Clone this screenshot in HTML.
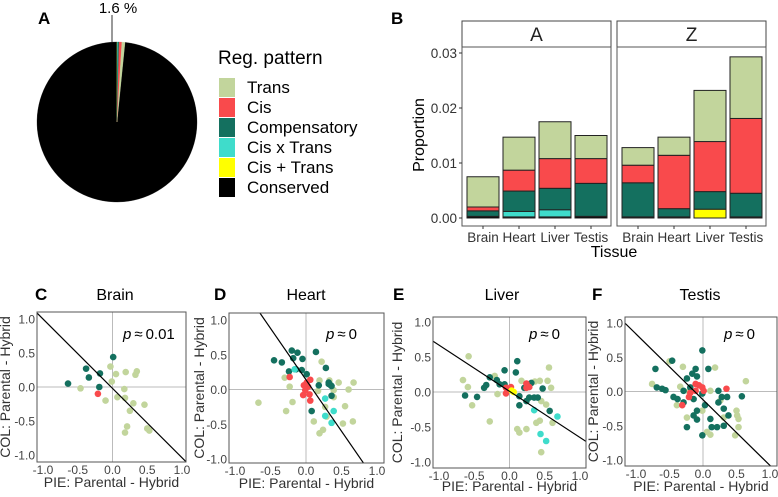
<!DOCTYPE html>
<html><head><meta charset="utf-8"><style>
html,body{margin:0;background:#fff;overflow:hidden;width:778px;height:497px;}
svg{display:block;font-family:"Liberation Sans",Arial,sans-serif;}
</style></head><body>
<svg id="fig" width="778" height="497" viewBox="0 0 778 497" xmlns="http://www.w3.org/2000/svg">
<g id="pieG"></g>
<g id="legG"></g>
<g id="barG"></g>
<g id="scG"></g>
</svg>
<script>
const NS="http://www.w3.org/2000/svg";
function mk(p,t,a,txt){const e=document.createElementNS(NS,t);for(const k in a)e.setAttribute(k,a[k]);if(txt!==undefined)e.textContent=txt;p.appendChild(e);return e;}
const COL={Trans:"#c2d59c",Cis:"#f94a4c",Compensatory:"#14705f",CisxTrans:"#3fdccb",CisPlusTrans:"#ffff00",Conserved:"#000000"};

// ---- Panel A data
const pieCats=["Conserved","CisPlusTrans","CisxTrans","Compensatory","Cis","Trans"];
const pieVals=[98.4,0.02,0.12,0.28,0.55,0.63];
const legendLabels=["Trans","Cis","Compensatory","Cis x Trans","Cis + Trans","Conserved"];
const legendKeys=["Trans","Cis","Compensatory","CisxTrans","CisPlusTrans","Conserved"];

// ---- Panel B data
const tissues=["Brain","Heart","Liver","Testis"];
const facets=["A","Z"];
const stackKeys=["Conserved","CisPlusTrans","CisxTrans","Compensatory","Cis","Trans"];
const valsA_Conserved=[0.0003,0.0002,0.0002,0.0003];
const valsA_CisPlusTrans=[0,0,0,0];
const valsA_CisxTrans=[0,0.0010,0.0013,0];
const valsA_Compensatory=[0.0010,0.0037,0.0039,0.0060];
const valsA_Cis=[0.0007,0.0038,0.0054,0.0045];
const valsA_Trans=[0.0055,0.0060,0.0067,0.0042];
const valsZ_Conserved=[0.0002,0.0002,0,0.0002];
const valsZ_CisPlusTrans=[0,0,0.0016,0];
const valsZ_CisxTrans=[0,0,0,0];
const valsZ_Compensatory=[0.0062,0.0015,0.0032,0.0043];
const valsZ_Cis=[0.0032,0.0097,0.0091,0.0136];
const valsZ_Trans=[0.0032,0.0033,0.0093,0.0112];
const yTicksB=[0,0.01,0.02,0.03];
const yTickLabelsB=["0.00","0.01","0.02","0.03"];

// ---- Scatter data [x,y,category]
const ptsBrain=[[-0.64,0.05,"Compensatory"],[-0.34,0.14,"Compensatory"],[-0.38,0.27,"Compensatory"],[-0.18,0.2,"Compensatory"],[-0.19,0,"Compensatory"],[0.01,0.44,"Compensatory"],[-0.21,-0.1,"Cis"],
[-0.46,-0.02,"Trans"],[-0.03,0.3,"Trans"],[0.05,0.19,"Trans"],[-0.01,0.08,"Trans"],[0.17,-0.03,"Trans"],[0.07,-0.15,"Trans"],[0.18,-0.16,"Trans"],[-0.1,-0.2,"Trans"],[0.19,0.22,"Trans"],[0.35,0.23,"Trans"],[0.33,0.18,"Trans"],[0.3,-0.24,"Trans"],[0.25,-0.35,"Trans"],[0.46,-0.26,"Trans"],[0.21,-0.58,"Trans"],[0.18,-0.67,"Trans"],[0.5,-0.61,"Trans"],[0.53,-0.64,"Trans"]];
const ptsHeart=[[0.22,0.4,"Trans"],[0.19,0.13,"Trans"],[0.17,-0.02,"Trans"],[0.33,0.13,"Trans"],[0.46,0.1,"Trans"],[0.67,0.1,"Trans"],[0.6,0,"Trans"],[0.39,-0.01,"Trans"],[0.55,-0.24,"Trans"],[0.66,-0.46,"Trans"],[0.52,-0.49,"Trans"],[0.24,-0.58,"Trans"],[0.19,-0.63,"Trans"],[0.11,-0.46,"Trans"],[0.29,-0.39,"Trans"],[0.27,-0.25,"Trans"],[-0.23,0.04,"Trans"],[-0.19,-0.18,"Trans"],[-0.28,-0.31,"Trans"],[-0.67,-0.19,"Trans"],[-0.3,0.17,"Trans"],[0.39,-0.11,"Trans"],
[-0.45,0.42,"Compensatory"],[-0.34,0.39,"Compensatory"],[-0.2,0.56,"Compensatory"],[-0.12,0.53,"Compensatory"],[-0.18,0.45,"Compensatory"],[0.14,0.54,"Compensatory"],[-0.05,0.44,"Compensatory"],[-0.24,0.26,"Compensatory"],[-0.14,0.29,"Compensatory"],[-0.06,0.28,"Compensatory"],[0.01,0.22,"Compensatory"],[0.28,0.31,"Compensatory"],[0.18,0.06,"Compensatory"],[0.32,0.1,"Compensatory"],[0.35,0.06,"Compensatory"],[0.36,0.05,"Compensatory"],[0.36,-0.09,"Compensatory"],[0.08,-0.31,"Compensatory"],[0.32,0.08,"Compensatory"],
[-0.16,0.29,"CisxTrans"],[0.27,-0.13,"CisxTrans"],[0.39,-0.31,"CisxTrans"],[0.27,-0.38,"CisxTrans"],[0.36,-0.48,"CisxTrans"],
[-0.23,0.18,"Cis"],[0.06,0.14,"Cis"],[0.01,0.1,"Cis"],[-0.03,0.06,"Cis"],[0.03,0.04,"Cis"],[-0.04,-0.08,"Cis"],[0.05,-0.07,"Cis"],[0.06,-0.16,"Cis"],[-0.01,-0.01,"Cis"]];
const ptsLiver=[[-0.58,0.51,"Trans"],[-0.66,0.17,"Trans"],[-0.59,0.07,"Trans"],[-0.53,-0.19,"Trans"],[-0.28,-0.42,"Trans"],[-0.21,0.23,"Trans"],[-0.17,-0.03,"Trans"],[0.17,0.16,"Trans"],[0.36,0.15,"Trans"],[0.43,0.16,"Trans"],[0.56,0.35,"Trans"],[0.54,0.16,"Trans"],[0.59,0.06,"Trans"],[0.61,-0.44,"Trans"],[0.38,-0.44,"Trans"],[0.24,-0.53,"Trans"],[0.11,-0.53,"Trans"],[0.14,-0.58,"Trans"],[0.45,-0.86,"Trans"],[0.43,-0.41,"Trans"],[0.45,-0.13,"Trans"],[0.52,-0.18,"Trans"],
[-0.63,-0.05,"Compensatory"],[-0.46,-0.07,"Compensatory"],[-0.36,0.06,"Compensatory"],[-0.33,0.1,"Compensatory"],[-0.28,0.21,"Compensatory"],[-0.18,0.17,"Compensatory"],[-0.07,0.31,"Compensatory"],[-0.14,0.11,"Compensatory"],[-0.07,0.11,"Compensatory"],[0.11,0.44,"Compensatory"],[0.09,0.28,"Compensatory"],[0.14,-0.06,"Compensatory"],[0.14,-0.19,"Compensatory"],[0.21,0.06,"Compensatory"],[0.31,0.13,"Compensatory"],[0.28,-0.08,"Compensatory"],[0.35,-0.08,"Compensatory"],[0.4,-0.08,"Compensatory"],[0.47,0.05,"Compensatory"],[0.57,-0.27,"Compensatory"],[0.24,-0.13,"Compensatory"],
[0.35,-0.26,"CisxTrans"],[0.68,-0.35,"CisxTrans"],[0.44,-0.6,"CisxTrans"],[0.52,-0.7,"CisxTrans"],
[-0.05,0.06,"Cis"],[-0.01,0.04,"Cis"],[-0.05,-0.02,"Cis"],[0.02,0.07,"Cis"],[0.24,0.06,"Cis"],[0.28,0.07,"Cis"],[0.24,0.12,"Cis"],
[0.03,0.02,"CisPlusTrans"],[0.06,0,"CisPlusTrans"]];
const ptsTestis=[[-0.5,0.44,"Trans"],[-0.3,0.36,"Trans"],[-0.76,0.11,"Trans"],[-0.39,-0.2,"Trans"],[-0.24,-0.38,"Trans"],[-0.34,0.07,"Trans"],[-0.21,0,"Trans"],[-0.01,-0.28,"Trans"],[0.18,0.35,"Trans"],[0.11,0.01,"Trans"],[0.26,-0.13,"Trans"],[0.31,-0.38,"Trans"],[0.5,-0.28,"Trans"],[0.51,-0.35,"Trans"],[0.53,-0.4,"Trans"],[0.53,-0.52,"Trans"],[0.48,-0.64,"Trans"],[0.11,-0.63,"Trans"],[0.64,0.15,"Trans"],[0.06,-0.59,"Trans"],
[-0.71,0.33,"Compensatory"],[-0.46,0.45,"Compensatory"],[-0.01,0.6,"Compensatory"],[-0.69,0.06,"Compensatory"],[-0.61,0.04,"Compensatory"],[-0.56,0.02,"Compensatory"],[-0.44,-0.08,"Compensatory"],[-0.38,-0.11,"Compensatory"],[-0.29,0.01,"Compensatory"],[-0.24,0.19,"Compensatory"],[-0.16,0.26,"Compensatory"],[-0.11,0.33,"Compensatory"],[-0.09,0.22,"Compensatory"],[0.08,0.33,"Compensatory"],[-0.19,0.06,"Compensatory"],[-0.14,-0.11,"Compensatory"],[-0.01,-0.03,"Compensatory"],[0.03,-0.2,"Compensatory"],[-0.09,-0.28,"Compensatory"],[-0.14,-0.35,"Compensatory"],[-0.09,-0.41,"Compensatory"],[-0.24,-0.52,"Compensatory"],[-0.01,-0.64,"Compensatory"],[0.11,-0.4,"Compensatory"],[0.13,-0.52,"Compensatory"],[0.23,-0.16,"Compensatory"],[0.28,-0.08,"Compensatory"],[0.23,0.01,"Compensatory"],[0.36,-0.08,"Compensatory"],[0.31,-0.25,"Compensatory"],[0.38,-0.35,"Compensatory"],[0.21,-0.52,"Compensatory"],[0.31,-0.5,"Compensatory"],[0.58,-0.07,"Compensatory"],[-0.29,-0.16,"Compensatory"],
[-0.21,-0.08,"Cis"],[-0.31,-0.2,"Cis"],[-0.11,0.11,"Cis"],[-0.06,0.09,"Cis"],[-0.01,0.06,"Cis"],[-0.11,0.01,"Cis"],[0.01,0.01,"Cis"],[0.35,0.04,"Cis"],[-0.19,-0.02,"Cis"]];
const fitSlopes=[-1.02,-1.48,-0.66,-0.96];
const fitIntercepts=[-0.02,0.14,0.01,-0.12];
const pLabels=["0.01","0","0","0"];
const scTicks=[-1,-0.5,0,0.5,1];
const scTickLabels=["-1.0","-0.5","0.0","0.5","1.0"];
const scTitles=["Brain","Heart","Liver","Testis"];
const scLetters=["C","D","E","F"];

// ===== Panel A
const svg=document.getElementById("fig");
const pieG=document.getElementById("pieG");
let t=mk(svg,"text",{x:38,y:24,"font-size":17,"font-weight":"bold"},"A");


const cx=117,cy=122,r=80;
const total=pieVals.reduce((a,b)=>a+b,0);
let ang=-(pieVals[0]/total)*2*Math.PI;
pieVals.forEach((v,i)=>{
  const a0=ang,a1=ang+v/total*2*Math.PI;ang=a1;
  const x0=cx+r*Math.sin(a0),y0=cy-r*Math.cos(a0),x1=cx+r*Math.sin(a1),y1=cy-r*Math.cos(a1);
  const large=(a1-a0)>Math.PI?1:0;
  const p=mk(pieG,"path",{d:`M${cx},${cy} L${x0},${y0} A${r},${r} 0 ${large} 1 ${x1},${y1} Z`,fill:COL[pieCats[i]],stroke:COL[pieCats[i]],"stroke-width":0.3});
  
  
});
let ln=mk(pieG,"line",{x1:112,y1:15,x2:112,y2:42,stroke:"#333","stroke-width":1});


t=mk(pieG,"text",{x:118,y:13,"font-size":15,"text-anchor":"middle"},"1.6 %");


const legG=document.getElementById("legG");
t=mk(legG,"text",{x:218,y:64,"font-size":19},"Reg. pattern");


legendLabels.forEach((lab,i)=>{
  const y=78+i*20;
  const s=mk(legG,"rect",{x:219,y:y,width:16,height:19,fill:COL[legendKeys[i]]});
  
  
  const tx=mk(legG,"text",{x:247,y:y+15,"font-size":17},lab);
  
  
});

// ===== Panel B
const barG=document.getElementById("barG");
t=mk(barG,"text",{x:391,y:24,"font-size":17,"font-weight":"bold"},"B");


const y0B=218,pxPerUnit=5500;
const yB=v=>y0B-v*pxPerUnit;
const facetX=[462,617],facetW=149,stripTop=21,frameTop=47,frameBot=226;
const barW=32,barStep=36,barOff=5;
const facetData={A:{Conserved:valsA_Conserved,CisPlusTrans:valsA_CisPlusTrans,CisxTrans:valsA_CisxTrans,Compensatory:valsA_Compensatory,Cis:valsA_Cis,Trans:valsA_Trans},
Z:{Conserved:valsZ_Conserved,CisPlusTrans:valsZ_CisPlusTrans,CisxTrans:valsZ_CisxTrans,Compensatory:valsZ_Compensatory,Cis:valsZ_Cis,Trans:valsZ_Trans}};
facets.forEach((f,fi)=>{
  const fx=facetX[fi];
  const st=mk(barG,"rect",{x:fx,y:stripTop,width:facetW,height:frameTop-stripTop,fill:"#fff",stroke:"#444","stroke-width":1});
  
  
  const stt=mk(barG,"text",{x:fx+facetW/2,y:stripTop+20,"font-size":19,"text-anchor":"middle",fill:"#222"},f);
  
  
  const fr=mk(barG,"rect",{x:fx,y:frameTop,width:facetW,height:frameBot-frameTop,fill:"none",stroke:"#555","stroke-width":1});
  
  
  tissues.forEach((ts,ti)=>{
    const bx=fx+barOff+ti*barStep;
    let cum=0;
    stackKeys.forEach(k=>{
      const v=facetData[f][k][ti];
      if(v<=0)return;
      const rr=mk(barG,"rect",{x:bx,y:yB(cum+v),width:barW,height:v*pxPerUnit,fill:COL[k],stroke:"#222","stroke-width":1});
      
      
      cum+=v;
    });
    const tk=mk(barG,"line",{x1:bx+barW/2,y1:frameBot,x2:bx+barW/2,y2:frameBot+3,stroke:"#333"});
    
    
    const xl=mk(barG,"text",{x:bx+barW/2,y:frameBot+16,"font-size":13.5,"text-anchor":"middle",fill:"#333"},ts);
    
    
  });
});
yTicksB.forEach((v,i)=>{
  const y=yB(v);
  const tk=mk(barG,"line",{x1:459,y1:y,x2:462,y2:y,stroke:"#333"});
  
  
  const lb=mk(barG,"text",{x:457,y:y+5,"font-size":13.5,"text-anchor":"end",fill:"#333"},yTickLabelsB[i]);
  
  
});
t=mk(barG,"text",{x:614,y:257,"font-size":16,"text-anchor":"middle"},"Tissue");


t=mk(barG,"text",{x:0,y:0,"font-size":16,"text-anchor":"middle",transform:"translate(424,135) rotate(-90)"},"Proportion");



// ===== Scatter panels
const scG=document.getElementById("scG");
const panels=[
 {pts:ptsBrain,fx0:37,fx1:186,fy0:312,fy1:462,x0:112.5,sx:69.5,y0:387,sy:68,lx:35,tx:115,ytx:5,px:123},
 {pts:ptsHeart,fx0:229,fx1:384,fy0:313,fy1:463,x0:306,sx:71,y0:389.5,sy:69.5,lx:214,tx:306,ytx:199,px:326},
 {pts:ptsLiver,fx0:433,fx1:586,fy0:317,fy1:468,x0:509.5,sx:70.5,y0:392,sy:70,lx:393,tx:502,ytx:397,px:529},
 {pts:ptsTestis,fx0:625,fx1:777,fy0:317,fy1:466,x0:703,sx:67,y0:391.5,sy:68.5,lx:592,tx:700,ytx:593,px:724}];
const order=["Trans","Compensatory","CisxTrans","Cis","CisPlusTrans"];
panels.forEach((P,pi)=>{
  const g=mk(scG,"g",{});
  
  
  const X=v=>P.x0+v*P.sx, Y=v=>P.y0-v*P.sy;
  let e=mk(g,"text",{x:P.lx,y:300,"font-size":17,"font-weight":"bold"},scLetters[pi]);
  
  
  e=mk(g,"text",{x:P.tx,y:300,"font-size":16,"text-anchor":"middle"},scTitles[pi]);
  
  
  const cid="clip"+pi;
  const cp=mk(g,"clipPath",{id:cid});mk(cp,"rect",{x:P.fx0,y:P.fy0,width:P.fx1-P.fx0,height:P.fy1-P.fy0});
  e=mk(g,"line",{x1:X(0),y1:P.fy0,x2:X(0),y2:P.fy1,stroke:"#bbb","stroke-width":1});
  
  
  e=mk(g,"line",{x1:P.fx0,y1:Y(0),x2:P.fx1,y2:Y(0),stroke:"#bbb","stroke-width":1});
  
  
  const dg=mk(g,"g",{"clip-path":`url(#${cid})`});
  order.forEach(c=>{P.pts.filter(p=>p[2]===c).forEach(p=>{
    const d=mk(dg,"circle",{cx:X(p[0]),cy:Y(p[1]),r:3.3,fill:COL[c]});
    
    
  });});
  const m=fitSlopes[pi],b=fitIntercepts[pi];
  e=mk(dg,"line",{x1:X(-1.5),y1:Y(b+m*-1.5),x2:X(1.5),y2:Y(b+m*1.5),stroke:"#000","stroke-width":1.2});
  
  
  e=mk(g,"rect",{x:P.fx0,y:P.fy0,width:P.fx1-P.fx0,height:P.fy1-P.fy0,fill:"none",stroke:"#555","stroke-width":1});
  
  
  scTicks.forEach((v,i)=>{
    const a=mk(g,"text",{x:X(v),y:P.fy1+12,"font-size":12,"text-anchor":"middle",fill:"#444"},scTickLabels[i]);
    
    
    const bb=mk(g,"text",{x:P.fx0-2,y:Y(v)+4.5,"font-size":12,"text-anchor":"end",fill:"#444"},scTickLabels[i]);
    
    
  });
  e=mk(g,"text",{x:(P.fx0+P.fx1)/2,y:Math.min(P.fy1+25,491),"font-size":14,"text-anchor":"middle",fill:"#333"},"PIE: Parental - Hybrid");
  
  
  e=mk(g,"text",{x:0,y:0,"font-size":14,"text-anchor":"middle",fill:"#333",transform:`translate(${P.ytx+5},${(P.fy0+P.fy1)/2}) rotate(-90)`},"COL: Parental - Hybrid");
  
  
  e=mk(g,"text",{x:P.px,y:339,"font-size":15},"");
  mk(e,"tspan",{"font-style":"italic"},"p");
  mk(e,"tspan",{},"\u2009\u2248\u2009"+pLabels[pi]);
  
  
});
</script>
</body></html>
